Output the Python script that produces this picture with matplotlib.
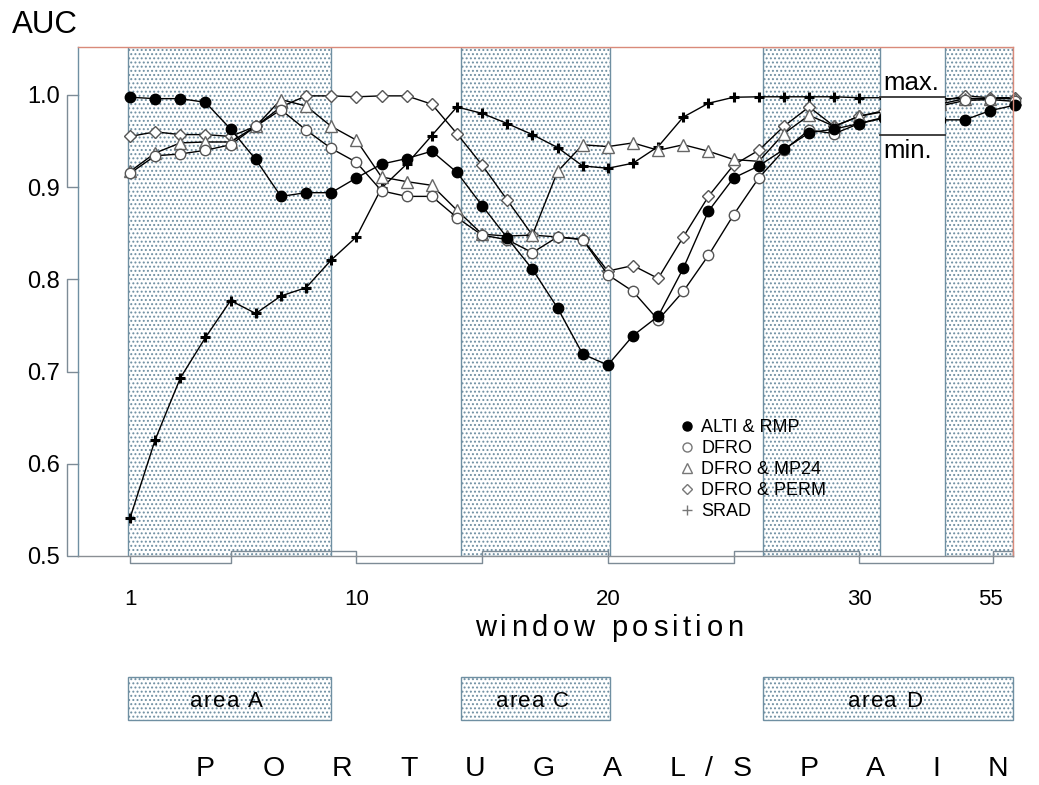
import matplotlib
matplotlib.use('Agg')
import matplotlib.pyplot as plt
import matplotlib.transforms as mtransforms
from matplotlib import font_manager
from matplotlib.font_manager import FontProperties
from matplotlib.ft2font import FT2Font
from matplotlib.lines import Line2D
from matplotlib.patches import Rectangle
import numpy as np

FONT = 'Liberation Sans'
W, H, DPI = 1039, 785, 100
plt.rcParams['font.family'] = [FONT, 'DejaVu Sans']
plt.rcParams['hatch.linewidth'] = 0.9

# window positions; the axis is broken between 31 and 53
left_pos = list(range(1, 32))
right_pos = [53, 54, 55, 56]
GAP_SHIFT = 19.8

alti_left = [0.9975, 0.996, 0.996, 0.992, 0.963, 0.930, 0.890, 0.894, 0.894, 0.910,
             0.925, 0.931, 0.939, 0.916, 0.880, 0.845, 0.811, 0.769, 0.719, 0.707,
             0.739, 0.760, 0.812, 0.874, 0.910, 0.923, 0.941, 0.959, 0.963, 0.969, 0.975]
alti_right = [0.973, 0.973, 0.983, 0.989]

dfro_left = [0.915, 0.934, 0.936, 0.940, 0.946, 0.966, 0.984, 0.962, 0.942, 0.927,
             0.896, 0.890, 0.890, 0.867, 0.848, 0.843, 0.829, 0.846, 0.843, 0.805,
             0.787, 0.756, 0.787, 0.826, 0.870, 0.910, 0.940, 0.962, 0.958, 0.969, 0.976]
dfro_right = [0.988, 0.994, 0.995, 0.993]

mp24_left = [0.917, 0.937, 0.948, 0.949, 0.949, 0.966, 0.995, 0.988, 0.966, 0.951,
             0.911, 0.906, 0.902, 0.875, 0.849, 0.847, 0.848, 0.917, 0.946, 0.944,
             0.948, 0.940, 0.946, 0.939, 0.930, 0.928, 0.958, 0.978, 0.966, 0.977, 0.982]
mp24_right = [0.990, 0.996, 0.996, 0.996]

perm_left = [0.955, 0.960, 0.957, 0.957, 0.955, 0.966, 0.987, 0.999, 0.999, 0.998,
             0.999, 0.999, 0.990, 0.958, 0.924, 0.886, 0.848, 0.846, 0.8435, 0.809,
             0.815, 0.801, 0.846, 0.890, 0.924, 0.940, 0.966, 0.987, 0.966, 0.977, 0.983]
perm_right = [0.993, 0.999, 0.997, 0.997]

srad_left = [0.541, 0.626, 0.693, 0.737, 0.777, 0.763, 0.782, 0.791, 0.821, 0.846,
             0.899, 0.925, 0.956, 0.987, 0.980, 0.969, 0.957, 0.943, 0.923, 0.9205,
             0.926, 0.944, 0.976, 0.991, 0.9975, 0.998, 0.998, 0.998, 0.998, 0.997, 0.997]
srad_right = [0.996, 0.996, 0.996, 0.997]

max_level = 0.998
min_level = 0.957

x_ticks = [1, 10, 20, 30, 55]
y_ticks = [0.5, 0.6, 0.7, 0.8, 0.9, 1.0]
area_names = ['area A', 'area C', 'area D']
country = 'P O R T U G A L/S P A I N'

BAND = '#6f8fa2'
RED = '#d98a7a'
ZEBRA = '#7d8b96'


def to_plot(pos):
    return [p if p < 40 else p - GAP_SHIFT for p in pos]


# stippled study areas (plot coordinates)
bands = [(0.92, 8.99), (14.16, 20.09), (26.17, 30.82), (33.41, 36.11)]
area_boxes = [(0.92, 8.99), (14.16, 20.09), (26.17, 36.11)]
gap = (30.82, 33.41)

fig = plt.figure(figsize=(W / DPI, H / DPI), dpi=DPI)
ax = fig.add_axes([78 / W, 1 - 556 / H, 935 / W, 509 / H])

for x0, x1 in bands:
    ax.add_patch(Rectangle((x0, 0.5), x1 - x0, 0.552, facecolor='white',
                           edgecolor=BAND, hatch='....', lw=1.0, zorder=0))

series = [
    (srad_left, srad_right, 'SRAD',
     dict(marker='+', ms=7, mew=2.2, mec='black')),
    (perm_left, perm_right, 'DFRO & PERM',
     dict(marker='D', ms=6, mfc='white', mec='#555555', mew=1.0)),
    (mp24_left, mp24_right, 'DFRO & MP24',
     dict(marker='^', ms=8, mfc='white', mec='#666666', mew=1.0)),
    (dfro_left, dfro_right, 'DFRO',
     dict(marker='o', ms=7.5, mfc='white', mec='#555555', mew=1.0)),
    (alti_left, alti_right, 'ALTI & RMP',
     dict(marker='o', ms=7.5, mfc='black', mec='black')),
]

for vals_l, vals_r, name, style in series:
    for pos, vals, clip in [(left_pos, vals_l, (-2, gap[0])),
                            (right_pos, vals_r, (gap[1], 37.5))]:
        line, = ax.plot(to_plot(pos), vals, color='black', lw=1.0, **style)
        line.set_clip_path(Rectangle((clip[0], 0.45), clip[1] - clip[0], 0.65,
                                     transform=ax.transData))

# max / min marks in the axis break
ax.plot(gap, [max_level, max_level], color='#333333', lw=1.3)
ax.plot(gap, [min_level, min_level], color='#333333', lw=1.3)
ax.text(gap[0] + 0.15, 1.0054, 'max.', fontsize=18.5, ha='left', va='baseline')
ax.text(gap[0] + 0.15, 0.9317, 'min.', fontsize=18.5, ha='left', va='baseline')

ax.set_xlim(-1.068, 36.11)
ax.set_ylim(0.5, 1.052)

for s in ['top', 'right']:
    ax.spines[s].set_color(RED)
ax.spines['left'].set_color(BAND)
ax.spines['bottom'].set_color('#8a8f94')
for s in ax.spines.values():
    s.set_linewidth(1.0)

ax.set_yticks(y_ticks)
ax.set_yticklabels([f'{v:.1f}' for v in y_ticks], fontsize=17)
ax.tick_params(axis='y', length=0, pad=13)
ax.set_xticks(to_plot(x_ticks))
ax.set_xticklabels([str(v) for v in x_ticks], fontsize=16)
ax.tick_params(axis='x', length=0, pad=24)

# alternating axis bars
tx = mtransforms.blended_transform_factory(ax.transData, ax.transAxes)
bounds = [1, 5, 10, 15, 20, 25, 30, 35.3, 36.11]
for k, (a, b) in enumerate(zip(bounds[:-1], bounds[1:])):
    d = -6.5 / 509 if k % 2 == 0 else 5 / 509
    ax.plot([a, a, b, b], [0, d, d, 0], transform=tx, color=ZEBRA, lw=1.0,
            clip_on=False)
ty = mtransforms.blended_transform_factory(ax.transAxes, ax.transData)
dx = 11 / 935
for lo, hi in [(0.5, 0.6), (0.7, 0.8), (0.9, 1.0)]:
    ax.plot([0, -dx, -dx, 0], [lo, lo, hi, hi], transform=ty, color=ZEBRA,
            lw=1.0, clip_on=False)

# legend
handles = [
    Line2D([], [], ls='none', marker='o', ms=6.5, mfc='black', mec='black'),
    Line2D([], [], ls='none', marker='o', ms=6.5, mfc='white', mec='#777777'),
    Line2D([], [], ls='none', marker='^', ms=6.5, mfc='white', mec='#777777'),
    Line2D([], [], ls='none', marker='D', ms=5, mfc='white', mec='#777777'),
    Line2D([], [], ls='none', marker='+', ms=7, mec='#777777', mew=1.0),
]
ax.legend(handles, ['ALTI & RMP', 'DFRO', 'DFRO & MP24', 'DFRO & PERM', 'SRAD'],
          loc='upper left', bbox_to_anchor=(680 / W, 1 - 419 / H),
          bbox_transform=fig.transFigure, frameon=False, fontsize=13,
          handlelength=0.8, handletextpad=0.37, labelspacing=0.22, borderpad=0,
          borderaxespad=0)


def spaced_text(xc, y, s, size, track):
    # text with extra letter spacing, centred on xc (pixels)
    font = FT2Font(font_manager.findfont(FontProperties(family=FONT)))
    font.set_size(size, DPI)
    adv = [font.load_char(ord(c)).linearHoriAdvance / 65536 for c in s]
    x = xc - (sum(adv) + track * (len(s) - 1)) / 2
    for c, a in zip(s, adv):
        if c != ' ':
            fig.text(x / W, 1 - y / H, c, fontsize=size, ha='left', va='baseline')
        x += a + track


fig.text(12 / W, 1 - 33 / H, 'AUC', fontsize=22.5, ha='left', va='baseline')
spaced_text(609, 636, 'window position', 21, 4.5)

# area boxes under the axis
bx = mtransforms.blended_transform_factory(ax.transData, fig.transFigure)
for (x0, x1), name in zip(area_boxes, area_names):
    ax.add_patch(Rectangle((x0, 65 / H), x1 - x0, 43 / H, transform=bx,
                           facecolor='white', edgecolor=BAND, hatch='....',
                           lw=1.0, clip_on=False))
    xc = ax.transData.transform(((x0 + x1) / 2, 0.5))[0]
    spaced_text(xc - 3, 707, name, 16, 1.4)

spaced_text(602, 776, country, 20.5, 19.8)

fig.savefig('out.png', dpi=DPI)
